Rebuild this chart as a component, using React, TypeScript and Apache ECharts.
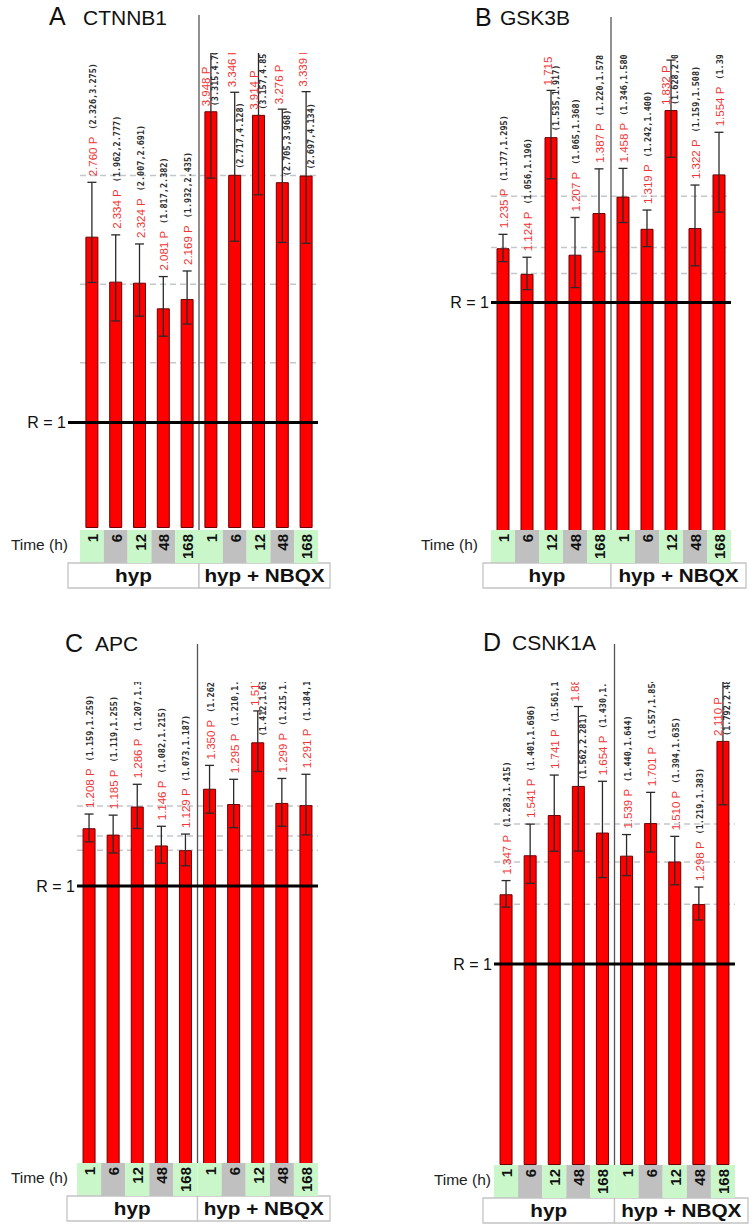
import React, { useEffect, useRef } from 'react';
import * as echarts from 'echarts';

// ---------- data ----------
const timeLabels = ['1', '6', '12', '48', '168', '1', '6', '12', '48', '168'];
const groupLabels = ['hyp', 'hyp + NBQX'];
const categoryKeys = timeLabels.map((t, i) => `${groupLabels[i < 5 ? 0 : 1]} ${t}`);

const ctnnb1Mean = [2.760, 2.334, 2.324, 2.081, 2.169, 3.948, 3.346, 3.914, 3.276, 3.339];
const ctnnb1Lo = [2.326, 1.962, 2.007, 1.817, 1.932, 3.315, 2.717, 3.157, 2.705, 2.697];
const ctnnb1Hi = [3.275, 2.777, 2.691, 2.382, 2.435, 4.701, 4.128, 4.853, 3.968, 4.134];
const ctnnb1Ref = [3.34, 2.31, 1.565];

const gsk3bMean = [1.235, 1.124, 1.715, 1.207, 1.387, 1.458, 1.319, 1.832, 1.322, 1.554];
const gsk3bLo = [1.177, 1.056, 1.535, 1.065, 1.220, 1.346, 1.242, 1.628, 1.159, 1.391];
const gsk3bHi = [1.295, 1.196, 1.917, 1.368, 1.578, 1.580, 1.400, 2.048, 1.508, 1.736];
const gsk3bRef = [1.46, 1.238, 1.126];

const apcMean = [1.208, 1.185, 1.286, 1.146, 1.129, 1.350, 1.295, 1.517, 1.299, 1.291];
const apcLo = [1.159, 1.119, 1.207, 1.082, 1.073, 1.262, 1.210, 1.412, 1.215, 1.184];
const apcHi = [1.259, 1.255, 1.366, 1.215, 1.187, 1.434, 1.384, 1.630, 1.387, 1.402];
const apcRef = [1.288, 1.18, 1.129];

const csnk1aMean = [1.347, 1.541, 1.741, 1.886, 1.654, 1.539, 1.701, 1.510, 1.298, 2.110];
const csnk1aLo = [1.283, 1.401, 1.561, 1.562, 1.430, 1.440, 1.557, 1.394, 1.219, 1.792];
const csnk1aHi = [1.415, 1.696, 1.940, 2.281, 1.909, 1.644, 1.854, 1.635, 1.383, 2.486];
const csnk1aRef = [1.697, 1.508, 1.297];

// ---------- layout ----------
const layouts = [
  { left: 80, width: 238, top: 53, height: 475, max: 4.5, cellTop: 530, rExt: 12, timeX: 68, boxL: 68, boxR: 330, titleX: 49, geneX: 83, titleY: 16 },
  { left: 491, width: 240, top: 55, height: 479, max: 2.07, cellTop: 530, rExt: 0, timeX: 478, boxL: 483, boxR: 746, titleX: 475, geneX: 500, titleY: 16.5 },
  { left: 77, width: 241, top: 682, height: 482, max: 1.734, cellTop: 1163, rExt: 0, timeX: 68, boxL: 67, boxR: 330, titleX: 65, geneX: 95, titleY: 642.5 },
  { left: 494, width: 241, top: 682, height: 483, max: 2.403, cellTop: 1165, rExt: 0, timeX: 491, boxL: 483, boxR: 748, titleX: 483, geneX: 512, titleY: 641.5 },
];

const panels = [
  { letter: 'A', gene: 'CTNNB1', mean: ctnnb1Mean, lo: ctnnb1Lo, hi: ctnnb1Hi, ref: ctnnb1Ref, L: layouts[0] },
  { letter: 'B', gene: 'GSK3B', mean: gsk3bMean, lo: gsk3bLo, hi: gsk3bHi, ref: gsk3bRef, L: layouts[1] },
  { letter: 'C', gene: 'APC', mean: apcMean, lo: apcLo, hi: apcHi, ref: apcRef, L: layouts[2] },
  { letter: 'D', gene: 'CSNK1A', mean: csnk1aMean, lo: csnk1aLo, hi: csnk1aHi, ref: csnk1aRef, L: layouts[3] },
];

const SANS = "'Liberation Sans', Arial, sans-serif";
const MONO = "'DejaVu Sans Mono', monospace";
const RED_SIZE = 11.5;
const CI_SIZE = 8.5;
const CELL_SIZE = 15;

let measureCtx: CanvasRenderingContext2D | null = null;
function measure(text: string, font: string): number {
  if (!measureCtx && typeof document !== 'undefined') {
    measureCtx = document.createElement('canvas').getContext('2d');
  }
  if (!measureCtx) return text.length * 6;
  measureCtx.font = font;
  return measureCtx.measureText(text).width;
}

const dashedRender = (params: any, api: any) => {
  const cs = params.coordSys;
  const y = api.coord([0, api.value(1)])[1];
  return {
    type: 'line',
    shape: { x1: cs.x, y1: y, x2: cs.x + cs.width, y2: y },
    style: { stroke: '#c3c7cc', lineWidth: 1.5, lineDash: [6, 4] },
  };
};

const errRender = (params: any, api: any) => {
  const i = api.value(0);
  const lo = api.value(1);
  const hi = api.value(2);
  const v = api.value(3);
  const cs = params.coordSys;
  const [cx, yLo] = api.coord([i, lo]);
  const yHi = api.coord([i, hi])[1];
  const yBar = api.coord([i, v])[1];
  const top = cs.y;
  const ls = () => ({ stroke: '#2a2a2a', lineWidth: 1.3 });
  const children: any[] = [
    { type: 'line', shape: { x1: cx, y1: yLo, x2: cx, y2: yHi }, style: ls() },
    { type: 'line', shape: { x1: cx - 4.5, y1: yLo, x2: cx + 4.5, y2: yLo }, style: ls() },
    { type: 'line', shape: { x1: cx - 4.5, y1: yHi, x2: cx + 4.5, y2: yHi }, style: ls() },
  ];
  const redText = `${v.toFixed(3)} P`;
  const ciText = `(${lo.toFixed(3)},${hi.toFixed(3)})`;
  const lRed = measure(redText, `${RED_SIZE}px ${SANS}`);
  const errTop = Math.max(yHi, top);
  const avail = errTop - top;
  let red: number[];
  let ci: number[];
  if (avail - 6 - lRed >= 25) {
    red = [cx + 1, errTop - 6];
    ci = [cx + 1, errTop - 6 - lRed - 7];
  } else if (avail >= 15) {
    red = [cx - 3, errTop - 5];
    ci = [cx + 5, yBar - 6];
  } else {
    red = [cx - 5, yBar - 5];
    ci = [cx + 4, yBar - 5];
  }
  children.push({
    type: 'text', x: red[0], y: red[1], rotation: Math.PI / 2,
    style: { text: redText, fill: '#f03434', fontSize: RED_SIZE, fontFamily: SANS, align: 'left', verticalAlign: 'middle' },
  });
  children.push({
    type: 'text', x: ci[0], y: ci[1], rotation: Math.PI / 2,
    style: { text: ciText, fill: '#2c2c2c', fontSize: CI_SIZE, fontFamily: MONO, fontWeight: 'bold', align: 'left', verticalAlign: 'middle' },
  });
  return { type: 'group', children };
};

const makeDeco = (L: any) => (params: any, api: any) => {
  const i = api.value(0);
  const cs = params.coordSys;
  const band = api.size([1, 0])[0];
  const cx = api.coord([i, 0])[0];
  const cellH = 33;
  const label = timeLabels[i];
  const lw = measure(label, `bold ${CELL_SIZE}px ${SANS}`);
  const children: any[] = [
    {
      type: 'rect',
      shape: { x: cx - band / 2, y: L.cellTop, width: band, height: cellH },
      style: { fill: (i % 5) % 2 === 0 ? '#c9f7c9' : '#c0c0c0' },
    },
    {
      type: 'text', x: cx + 0.5, y: L.cellTop + 4 + lw, rotation: Math.PI / 2,
      style: { text: label, fill: '#111', fontSize: CELL_SIZE, fontWeight: 'bold', fontFamily: SANS, align: 'left', verticalAlign: 'middle' },
    },
  ];
  if (params.dataIndex === 0) {
    const yR = api.coord([0, 1])[1];
    const sepX = (api.coord([4, 0])[0] + api.coord([5, 0])[0]) / 2;
    const lineStart = cs.x - L.rExt;
    const gTop = L.cellTop + cellH;
    children.push(
      {
        type: 'line', shape: { x1: sepX, y1: cs.y - 38, x2: sepX, y2: L.cellTop },
        style: { stroke: '#555', lineWidth: 1.3 },
      },
      {
        type: 'line', shape: { x1: lineStart, y1: yR, x2: cs.x + cs.width, y2: yR },
        style: { stroke: '#000', lineWidth: 3 },
      },
      {
        type: 'text', x: lineStart - 2, y: yR,
        style: { text: 'R = 1', fill: '#111', fontSize: 16, fontFamily: SANS, align: 'right', verticalAlign: 'middle' },
      },
      {
        type: 'text', x: L.timeX, y: L.cellTop + 14,
        style: { text: 'Time (h)', fill: '#222', fontSize: 15.5, fontFamily: SANS, align: 'right', verticalAlign: 'middle' },
      },
      {
        type: 'rect', shape: { x: L.boxL, y: gTop, width: sepX - L.boxL, height: 25 },
        style: { fill: '#fff', stroke: '#c4c4c4', lineWidth: 1.3 },
      },
      {
        type: 'rect', shape: { x: sepX, y: gTop, width: L.boxR - sepX, height: 25 },
        style: { fill: '#fff', stroke: '#c4c4c4', lineWidth: 1.3 },
      },
      {
        type: 'text', x: (L.boxL + sepX) / 2, y: gTop + 13, scaleX: 1.15,
        style: { text: groupLabels[0], fill: '#111', fontSize: 18, fontWeight: 'bold', fontFamily: SANS, align: 'center', verticalAlign: 'middle' },
      },
      {
        type: 'text', x: (sepX + L.boxR) / 2, y: gTop + 13, scaleX: 1.15,
        style: { text: groupLabels[1], fill: '#111', fontSize: 18, fontWeight: 'bold', fontFamily: SANS, align: 'center', verticalAlign: 'middle' },
      },
    );
  }
  return { type: 'group', children };
};

function buildOption(): any {
  const grid = panels.map((p) => ({ left: p.L.left, top: p.L.top, width: p.L.width, height: p.L.height }));
  const xAxis = panels.map((p, k) => ({
    type: 'category', gridIndex: k, data: categoryKeys,
    axisLabel: { show: false }, axisLine: { show: false }, axisTick: { show: false }, splitLine: { show: false },
  }));
  const yAxis = panels.map((p, k) => ({
    type: 'value', gridIndex: k, min: 0, max: p.L.max, show: false, splitLine: { show: false },
  }));
  const series: any[] = [];
  panels.forEach((p, k) => {
    series.push({
      type: 'custom', name: `${p.gene} ref`, xAxisIndex: k, yAxisIndex: k, z: 1, silent: true,
      data: p.ref.map((r) => [0, r]), encode: { x: 0, y: 1 }, renderItem: dashedRender,
    });
    series.push({
      type: 'bar', name: p.gene, xAxisIndex: k, yAxisIndex: k, z: 2, barWidth: 13,
      data: p.mean,
      itemStyle: { color: '#ff0000', borderColor: '#6b0000', borderWidth: 1 },
    });
    series.push({
      type: 'custom', name: `${p.gene} CI`, xAxisIndex: k, yAxisIndex: k, z: 3, clip: true, silent: true,
      data: p.mean.map((v, i) => [i, p.lo[i], p.hi[i], v]), encode: { x: 0, y: [1, 2] }, renderItem: errRender,
    });
    series.push({
      type: 'custom', name: `${p.gene} deco`, xAxisIndex: k, yAxisIndex: k, z: 5, clip: false, silent: true,
      data: timeLabels.map((t, i) => [i, 0]), encode: { x: 0, y: 1 }, renderItem: makeDeco(p.L),
    });
  });
  const graphic: any[] = [];
  panels.forEach((p) => {
    graphic.push({
      type: 'text', x: p.L.titleX, y: p.L.titleY,
      style: { text: p.letter, fill: '#111', fontSize: 25, fontFamily: SANS, verticalAlign: 'middle' },
    });
    graphic.push({
      type: 'text', x: p.L.geneX, y: p.L.titleY + 1,
      style: { text: p.gene, fill: '#111', fontSize: 21, fontFamily: SANS, verticalAlign: 'middle' },
    });
  });
  return {
    animation: false,
    backgroundColor: '#ffffff',
    grid, xAxis, yAxis, series, graphic,
  };
}

export default function App() {
  const ref = useRef<HTMLDivElement>(null);
  useEffect(() => {
    if (!ref.current) return;
    const chart = echarts.init(ref.current, null, { renderer: 'svg' });
    chart.setOption(buildOption());
    return () => chart.dispose();
  }, []);
  return (
    <div
      ref={ref}
      style={{ position: 'absolute', left: 0, top: 0, width: 755, height: 1229, background: '#fff' }}
    />
  );
}
